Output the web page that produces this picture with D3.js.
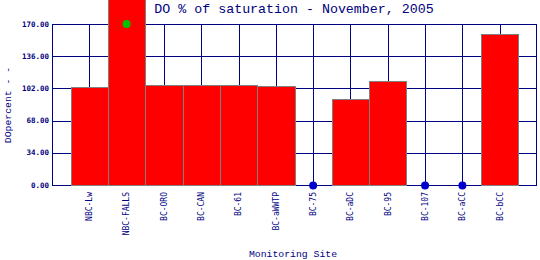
<!DOCTYPE html>
<html><head><meta charset="utf-8">
<script src="https://cdn.jsdelivr.net/npm/d3@7"></script>
<style>body{margin:0;background:#fff}svg{display:block}</style>
</head><body>
<script>
const categories = ["NBC-Lw","NBC-FALLS","BC-ORO","BC-CAN","BC-61","BC-aWWTP","BC-75","BC-aDC","BC-95","BC-107","BC-aCC","BC-bCC"];
const values = [103.2, 210, 106, 106, 105.2, 104.9, null, 90.5, 109.8, null, null, 159.4];
const capMarkers = [null, 170, null, null, null, null, null, null, null, null, null, null];
const yTicks = [0, 34, 68, 102, 136, 170];
const title = "DO % of saturation - November, 2005";
const xTitle = "Monitoring Site";
const yTitle = "DOpercent - -";

const W = 540, H = 260;
const navy = "#000080";
const mono = "'DejaVu Sans Mono', 'Liberation Mono', monospace";
const thinMono = "'Liberation Mono', 'DejaVu Sans Mono', monospace";
const svg = d3.select("body").append("svg").attr("width", W).attr("height", H);

const x = d3.scaleLinear().domain([0, categories.length + 1]).range([52, 537]);
const y = d3.scaleLinear().domain([0, 170]).range([185, 24]);

// grid
const g = svg.append("g").attr("shape-rendering", "crispEdges");
g.selectAll("line.h").data(yTicks).join("line")
  .attr("x1", x(0)).attr("x2", x(categories.length + 1))
  .attr("y1", d => Math.round(y(d)) + 0.5).attr("y2", d => Math.round(y(d)) + 0.5)
  .attr("stroke", navy).attr("stroke-width", 1);
g.selectAll("line.v").data(categories).join("line")
  .attr("x1", (d, i) => Math.round(x(i + 1)) + 0.5).attr("x2", (d, i) => Math.round(x(i + 1)) + 0.5)
  .attr("y1", y(170)).attr("y2", y(0))
  .attr("stroke", navy).attr("stroke-width", 1);
g.append("line").attr("x1", x(0) + 0.5).attr("x2", x(0) + 0.5).attr("y1", y(170)).attr("y2", y(0)).attr("stroke", navy);
g.append("line").attr("x1", x(categories.length + 1) - 0.5).attr("x2", x(categories.length + 1) - 0.5).attr("y1", y(170)).attr("y2", y(0)).attr("stroke", navy);

// bars
svg.append("g").attr("shape-rendering", "crispEdges")
  .selectAll("rect").data(values.map((v, i) => ({v, i})).filter(d => d.v != null)).join("rect")
  .attr("x", d => Math.round(x(d.i + 0.5)) + 0.5)
  .attr("width", d => Math.round(x(d.i + 1.5)) - Math.round(x(d.i + 0.5)))
  .attr("y", d => Math.round(y(d.v)) + 0.5)
  .attr("height", d => Math.round(y(0)) - Math.round(y(d.v)))
  .attr("fill", "#ff0000").attr("stroke", "#808080").attr("stroke-width", 1);

// missing markers
svg.append("g").selectAll("circle").data(values.map((v, i) => ({v, i})).filter(d => d.v == null)).join("circle")
  .attr("cx", d => x(d.i + 1)).attr("cy", y(0) + 0.5).attr("r", 4).attr("fill", "#0000cc");

// cap markers
svg.append("g").selectAll("circle").data(capMarkers.map((v, i) => ({v, i})).filter(d => d.v != null)).join("circle")
  .attr("cx", d => x(d.i + 1)).attr("cy", d => y(d.v)).attr("r", 4).attr("fill", "#00c000");

// y tick labels
svg.append("g").selectAll("text").data(yTicks).join("text")
  .attr("x", 49).attr("y", d => y(d)).attr("dy", "0.35em")
  .attr("text-anchor", "end").attr("fill", navy)
  .attr("font-family", mono).attr("font-size", "7.5px").attr("font-weight", "bold")
  .text(d => d3.format(".2f")(d));

// x tick labels
svg.append("g").selectAll("text").data(categories).join("text")
  .attr("transform", (d, i) => `translate(${x(i + 1)},192) rotate(-90)`)
  .attr("dy", "0.35em").attr("text-anchor", "end").attr("fill", navy)
  .attr("font-family", mono).attr("font-size", "8px")
  .text(d => d);

// titles
svg.append("text").attr("x", 294).attr("y", 13).attr("text-anchor", "middle")
  .attr("fill", navy).attr("font-family", thinMono).attr("font-size", "13.3px").text(title);
svg.append("text").attr("x", 293).attr("y", 257).attr("text-anchor", "middle")
  .attr("fill", navy).attr("font-family", thinMono).attr("font-size", "9.8px").text(xTitle);
svg.append("text").attr("transform", "translate(11,105) rotate(-90)").attr("text-anchor", "middle")
  .attr("fill", navy).attr("font-family", thinMono).attr("font-size", "9.8px").text(yTitle);
</script>
</body></html>
